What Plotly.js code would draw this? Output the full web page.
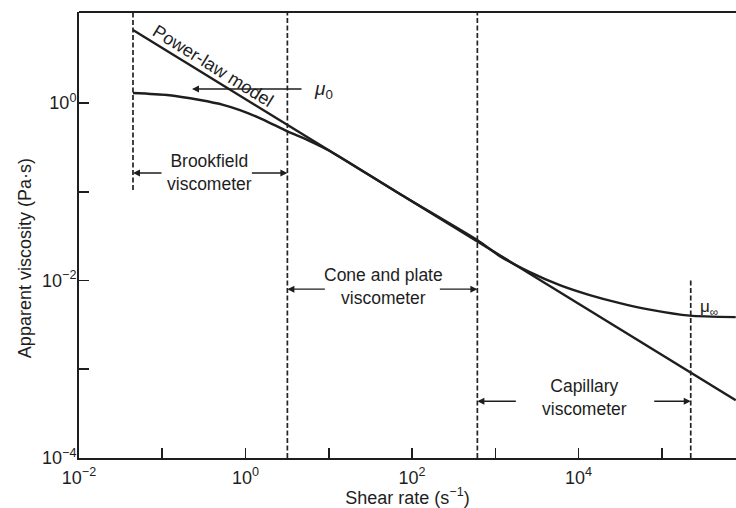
<!DOCTYPE html>
<html><head><meta charset="utf-8">
<script src="https://cdn.plot.ly/plotly-3.0.1.min.js"></script>
<style>html,body{margin:0;padding:0;background:#fff;overflow:hidden}#chart{width:736px;height:508px}</style>
</head><body><div id="chart"></div>
<script>
// Power-law model (straight line on log-log axes)
const plShear = [0.0445, 1, 100, 1e4, 7.7e5];
const plViscosity = [6.65, 1.107, 0.078, 0.00548, 4.49e-4];

// Apparent viscosity curve (shear-thinning fluid)
const curveShear = [0.0445, 0.114, 0.284, 0.551, 0.857, 1.574, 3.14, 5.93, 10.3, 71.3, 617, 1132, 2594, 5943, 13610, 31260, 71610, 216300, 770000];
const curveViscosity = [1.297, 1.231, 1.081, 0.949, 0.834, 0.660, 0.483, 0.373, 0.288, 0.0942, 0.0282, 0.01884, 0.01244, 0.00887, 0.00685, 0.00556, 0.00470, 0.00402, 0.00387];

// Viscometer range boundaries (shear rate, s^-1) and their vertical extent (Pa·s)
const rangeBounds = [0.0445, 3.18, 608, 2.22e5];
const boundLow = [0.105, 1e-4, 1e-4, 1e-4];
const boundHigh = [10.6, 10.6, 10.6, 0.0101];

const rangeLabels = ['Brookfield<br>viscometer', 'Cone and plate<br>viscometer', 'Capillary<br>viscometer'];

const xTickVals = [1e-2, 1e-1, 1, 10, 100, 1e3, 1e4, 1e5];
const xTickText = ['10<sup>−2</sup>', '', '10<sup>0</sup>', '', '10<sup>2</sup>', '', '10<sup>4</sup>', ''];
const yTickVals = [1e-4, 1e-3, 1e-2, 1e-1, 1];
const yTickText = ['10<sup>−4</sup>', '', '10<sup>−2</sup>', '', '10<sup>0</sup>'];

const INK = '#1e1e1e';
const FONT = 'Liberation Sans, Arial, Helvetica, sans-serif';
const L = Math.log10;

const traces = [];
traces.push({x: plShear, y: plViscosity, mode: 'lines', line: {color: INK, width: 2.4}, hoverinfo: 'skip', name: 'Power-law model'});
traces.push({x: curveShear, y: curveViscosity, mode: 'lines', line: {color: INK, width: 2.4, shape: 'spline', smoothing: 0.6}, hoverinfo: 'skip', name: 'Apparent viscosity'});
for (let i = 0; i < rangeBounds.length; i++) {
  traces.push({x: [rangeBounds[i], rangeBounds[i]], y: [boundLow[i], boundHigh[i]], mode: 'lines',
    line: {color: '#222', width: 1.7, dash: '5px,2.5px'}, hoverinfo: 'skip', showlegend: false});
}

const txt = (s, x, y, extra) => Object.assign({text: s, x: x, y: y, xref: 'x', yref: 'y', showarrow: false,
  font: {family: FONT, size: 18, color: INK}}, extra || {});
const arrow = (x, y, ax) => ({text: '', x: x, y: y, xref: 'x', yref: 'y', ax: ax, ay: 0, showarrow: true,
  arrowhead: 2, arrowsize: 1, arrowwidth: 1.4, arrowcolor: INK});

const ann = [
  txt('Power-law model', -0.391, 0.417, {textangle: 32}),
  txt(rangeLabels[0], -0.427, -0.784, {font: {family: FONT, size: 17.5, color: INK}}),
  txt(rangeLabels[1], 1.661, -2.063, {font: {family: FONT, size: 17.5, color: INK}}),
  txt(rangeLabels[2], 4.074, -3.320, {font: {family: FONT, size: 17.5, color: INK}}),
  arrow(L(rangeBounds[0]), -0.789, 30), arrow(L(rangeBounds[1]), -0.789, -37),
  arrow(L(rangeBounds[1]), -2.097, 39), arrow(L(rangeBounds[2]), -2.097, -39),
  arrow(L(rangeBounds[2]), -3.360, 40), arrow(L(rangeBounds[3]), -3.360, -38),
  arrow(-0.643, 0.158, 111),
  txt('<i>μ</i><sub>0</sub>', 0.797, 0.147, {xanchor: 'left', font: {family: FONT, size: 19, color: INK}}),
  txt('μ<sub>∞</sub>', 5.431, -2.311, {xanchor: 'left', font: {family: FONT, size: 17, color: INK}}),
  {text: 'Apparent viscosity (Pa·s)', xref: 'paper', yref: 'paper', x: -0.082, y: 0.4484, textangle: -90,
   showarrow: false, xanchor: 'center', yanchor: 'middle', font: {family: FONT, size: 18, color: INK}}
];

const axisCommon = {type: 'log', showgrid: false, zeroline: false, showline: true, linecolor: INK, linewidth: 2,
  ticks: 'inside', ticklen: 10, tickwidth: 1.6, tickcolor: INK, tickmode: 'array',
  tickfont: {family: FONT, size: 18, color: INK}};

const layout = {
  width: 736, height: 508, margin: {l: 79, r: 0, t: 12, b: 50},
  paper_bgcolor: '#fff', plot_bgcolor: '#fff', showlegend: false,
  font: {family: FONT, color: INK},
  xaxis: Object.assign({}, axisCommon, {range: [-2, 5.89], tickvals: xTickVals, ticktext: xTickText, ticklabelstandoff: 2,
    title: {text: 'Shear rate (s<sup>−1</sup>)', font: {family: FONT, size: 18, color: INK}, standoff: 5}}),
  yaxis: Object.assign({}, axisCommon, {range: [-4, 1.026], tickvals: yTickVals, ticktext: yTickText, ticklabelstandoff: -3}),
  shapes: [{type: 'line', xref: 'paper', yref: 'paper', x0: 0, x1: 1, y0: 1, y1: 1, line: {color: INK, width: 2}}],
  annotations: ann
};

Plotly.newPlot('chart', traces, layout, {staticPlot: true, displayModeBar: false});
</script></body></html>
